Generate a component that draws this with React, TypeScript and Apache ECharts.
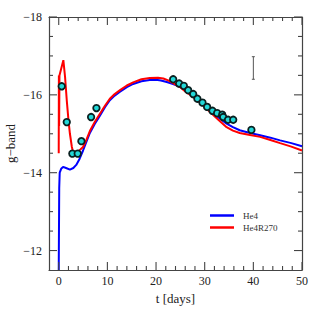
import React, { useEffect, useRef } from "react";
import * as echarts from "echarts";

// He4 model light curve
const tHe4 = [0, 0.1, 0.2, 0.5, 0.9, 1.5, 2.3, 3.0, 3.6, 4.3, 5.0, 5.7, 6.4, 7.4, 8.4, 9.5, 10.5, 11.5, 12.6, 14, 15.3, 17, 18.7, 20, 21, 22.2, 23.5, 24.9, 26.2, 27.6, 29.4, 31.1, 32.8, 34.5, 35.8, 37.2, 39.3, 41.4, 43.5, 45.5, 47.8, 50];
const magHe4 = [-11.5, -13.6, -14.0, -14.1, -14.15, -14.12, -14.08, -14.12, -14.2, -14.36, -14.57, -14.8, -15.02, -15.25, -15.45, -15.68, -15.86, -15.98, -16.08, -16.2, -16.28, -16.35, -16.38, -16.39, -16.37, -16.33, -16.28, -16.21, -16.1, -15.98, -15.8, -15.6, -15.42, -15.26, -15.17, -15.09, -15.02, -14.96, -14.9, -14.83, -14.76, -14.68];

// He4R270 model light curve
const tR270 = [0, 0.03, 0.08, 0.15, 0.27, 0.95, 1.3, 1.65, 2.0, 2.3, 2.7, 3.0, 3.5, 4.0, 4.5, 5.0, 5.7, 6.4, 7.4, 8.4, 9.5, 10.5, 11.5, 12.6, 14, 15.3, 17, 18.7, 20.4, 21.5, 22.5, 23.5, 24.9, 26.2, 27.6, 29.4, 31.1, 32.8, 34.5, 35.8, 37.2, 39.3, 41.4, 43.5, 45.5, 47.8, 50];
const magR270 = [-14.5, -16.5, -15.2, -16.5, -16.5, -16.89, -16.46, -15.86, -15.35, -15.0, -14.66, -14.5, -14.48, -14.55, -14.6, -14.66, -14.85, -15.07, -15.3, -15.5, -15.72, -15.9, -16.02, -16.12, -16.24, -16.32, -16.4, -16.43, -16.44, -16.42, -16.37, -16.3, -16.2, -16.07, -15.95, -15.76, -15.56, -15.36, -15.17, -15.08, -15.02, -14.97, -14.92, -14.84, -14.76, -14.67, -14.57];

// Observed g-band points
const tObs = [0.62, 1.65, 2.8, 3.9, 4.66, 6.65, 7.75, 23.52, 24.75, 25.72, 26.6, 27.63, 28.5, 29.55, 30.5, 31.6, 32.56, 33.6, 33.8, 34.8, 35.86, 39.6];
const magObs = [-16.22, -15.3, -14.49, -14.49, -14.81, -15.43, -15.66, -16.4, -16.29, -16.23, -16.12, -16.02, -15.9, -15.8, -15.69, -15.59, -15.53, -15.49, -15.43, -15.36, -15.36, -15.1];

// Typical error bar
const errT = [40];
const errLo = [-16.98];
const errHi = [-16.4];

const X_MIN = -2;
const X_MAX = 50;
const Y_MIN = -18;
const Y_MAX = -11.5;
const xMajor = [0, 10, 20, 30, 40, 50];
const xMinor = [2, 4, 6, 8, 12, 14, 16, 18, 22, 24, 26, 28, 32, 34, 36, 38, 42, 44, 46, 48];
const yMajor = [-18, -16, -14, -12];
const yMinor = [-17.5, -17, -16.5, -15.5, -15, -14.5, -13.5, -13, -12.5];

const FONT = "Liberation Serif";
const AXC = "#444";

export default function App() {
  const ref = useRef<HTMLDivElement>(null);
  useEffect(() => {
    document.body.style.margin = "0";
    if (!ref.current) return;
    const chart = echarts.init(ref.current, undefined, { renderer: "svg" });
    const lineStyle = { color: AXC, width: 1.2 };

    const tickData = [
      ...xMajor.map((v) => ["x", v, 8]),
      ...xMinor.map((v) => ["x", v, 4]),
      ...yMajor.map((v) => ["y", v, 8]),
      ...yMinor.map((v) => ["y", v, 4]),
    ];

    chart.setOption({
      animation: false,
      grid: { left: 49, right: 17, top: 17, bottom: 49, containLabel: false, outerBoundsMode: "none" },
      xAxis: [
        {
          type: "value",
          position: "bottom",
          min: X_MIN,
          max: X_MAX,
          axisLine: { show: true, onZero: false, lineStyle },
          axisTick: { show: false },
          axisLabel: { show: true, customValues: xMajor, fontFamily: FONT, fontSize: 12, color: "#222", margin: 5 },
          splitLine: { show: false },
          name: "t [days]",
          nameLocation: "middle",
          nameGap: 17,
          nameTextStyle: { fontFamily: FONT, fontSize: 13, color: "#222" },
        },
        {
          type: "value",
          position: "top",
          min: X_MIN,
          max: X_MAX,
          axisLine: { show: true, onZero: false, lineStyle },
          axisTick: { show: false },
          axisLabel: { show: false },
          splitLine: { show: false },
        },
      ],
      yAxis: [
        {
          type: "value",
          position: "left",
          inverse: true,
          min: Y_MIN,
          max: Y_MAX,
          axisLine: { show: true, onZero: false, lineStyle },
          axisTick: { show: false },
          axisLabel: {
            show: true,
            customValues: yMajor,
            fontFamily: FONT,
            fontSize: 12,
            color: "#222",
            margin: 7,
            formatter: (v: number) => String(v).replace("-", "\u2212"),
          },
          splitLine: { show: false },
          name: "g\u2212band",
          nameLocation: "middle",
          nameGap: 32,
          nameMoveOverlap: false,
          nameRotate: 90,
          nameTextStyle: { fontFamily: FONT, fontSize: 13, color: "#222" },
        },
        {
          type: "value",
          position: "right",
          inverse: true,
          min: Y_MIN,
          max: Y_MAX,
          axisLine: { show: true, onZero: false, lineStyle },
          axisTick: { show: false },
          axisLabel: { show: false },
          splitLine: { show: false },
        },
      ],
      legend: {
        data: ["He4", "He4R270"],
        orient: "vertical",
        left: 205,
        top: 206,
        itemWidth: 24,
        itemHeight: 2.5,
        itemGap: 3,
        icon: "rect",
        textStyle: { fontFamily: FONT, fontSize: 9, color: "#333", padding: [0, 0, 0, 4] },
      },
      series: [
        {
          name: "He4",
          type: "line",
          xAxisIndex: 0,
          yAxisIndex: 0,
          data: tHe4.map((t, i) => [t, magHe4[i]]),
          symbol: "none",
          lineStyle: { color: "#0000ff", width: 2 },
          itemStyle: { color: "#0000ff" },
          z: 2,
        },
        {
          name: "He4R270",
          type: "line",
          xAxisIndex: 0,
          yAxisIndex: 0,
          data: tR270.map((t, i) => [t, magR270[i]]),
          symbol: "none",
          lineStyle: { color: "#ff0000", width: 2 },
          itemStyle: { color: "#ff0000" },
          z: 3,
        },
        {
          name: "obs",
          type: "scatter",
          xAxisIndex: 0,
          yAxisIndex: 0,
          data: tObs.map((t, i) => [t, magObs[i]]),
          symbolSize: 6.5,
          itemStyle: { color: "#22d8d8", borderColor: "#0a2020", borderWidth: 1.8, opacity: 1 },
          z: 5,
        },
        {
          name: "err",
          type: "custom",
          xAxisIndex: 0,
          yAxisIndex: 0,
          data: errT.map((t, i) => [t, errLo[i], errHi[i]]),
          encode: { x: 0, y: [1, 2] },
          renderItem: (_p: any, api: any) => {
            const x = api.value(0);
            const a = api.coord([x, api.value(1)]);
            const b = api.coord([x, api.value(2)]);
            const st = { stroke: "#555", lineWidth: 1 };
            return {
              type: "group",
              children: [
                { type: "line", shape: { x1: a[0], y1: a[1], x2: b[0], y2: b[1] }, style: st },
                { type: "line", shape: { x1: a[0] - 1.5, y1: a[1], x2: a[0] + 1.5, y2: a[1] }, style: st },
                { type: "line", shape: { x1: b[0] - 1.5, y1: b[1], x2: b[0] + 1.5, y2: b[1] }, style: st },
              ],
            };
          },
          z: 4,
        },
        {
          name: "ticks",
          type: "custom",
          xAxisIndex: 0,
          yAxisIndex: 0,
          data: tickData.map((d) => [20, -15, d[0] === "x" ? 1 : 0, d[1], d[2]]),
          encode: { x: 0, y: 1 },
          renderItem: (p: any, api: any) => {
            const d = tickData[p.dataIndex];
            const v = d[1] as number;
            const len = d[2] as number;
            const st = { stroke: AXC, lineWidth: 1.1 };
            if (d[0] === "x") {
              const b = api.coord([v, Y_MAX]);
              const t = api.coord([v, Y_MIN]);
              return {
                type: "group",
                children: [
                  { type: "line", shape: { x1: b[0], y1: b[1], x2: b[0], y2: b[1] - len }, style: st },
                  { type: "line", shape: { x1: t[0], y1: t[1], x2: t[0], y2: t[1] + len }, style: st },
                ],
              };
            }
            const l = api.coord([X_MIN, v]);
            const r = api.coord([X_MAX, v]);
            return {
              type: "group",
              children: [
                { type: "line", shape: { x1: l[0], y1: l[1], x2: l[0] + len, y2: l[1] }, style: st },
                { type: "line", shape: { x1: r[0], y1: r[1], x2: r[0] - len, y2: r[1] }, style: st },
              ],
            };
          },
          z: 4,
        },
      ],
    });
    return () => chart.dispose();
  }, []);
  return <div ref={ref} style={{ width: 319, height: 319 }} />;
}
